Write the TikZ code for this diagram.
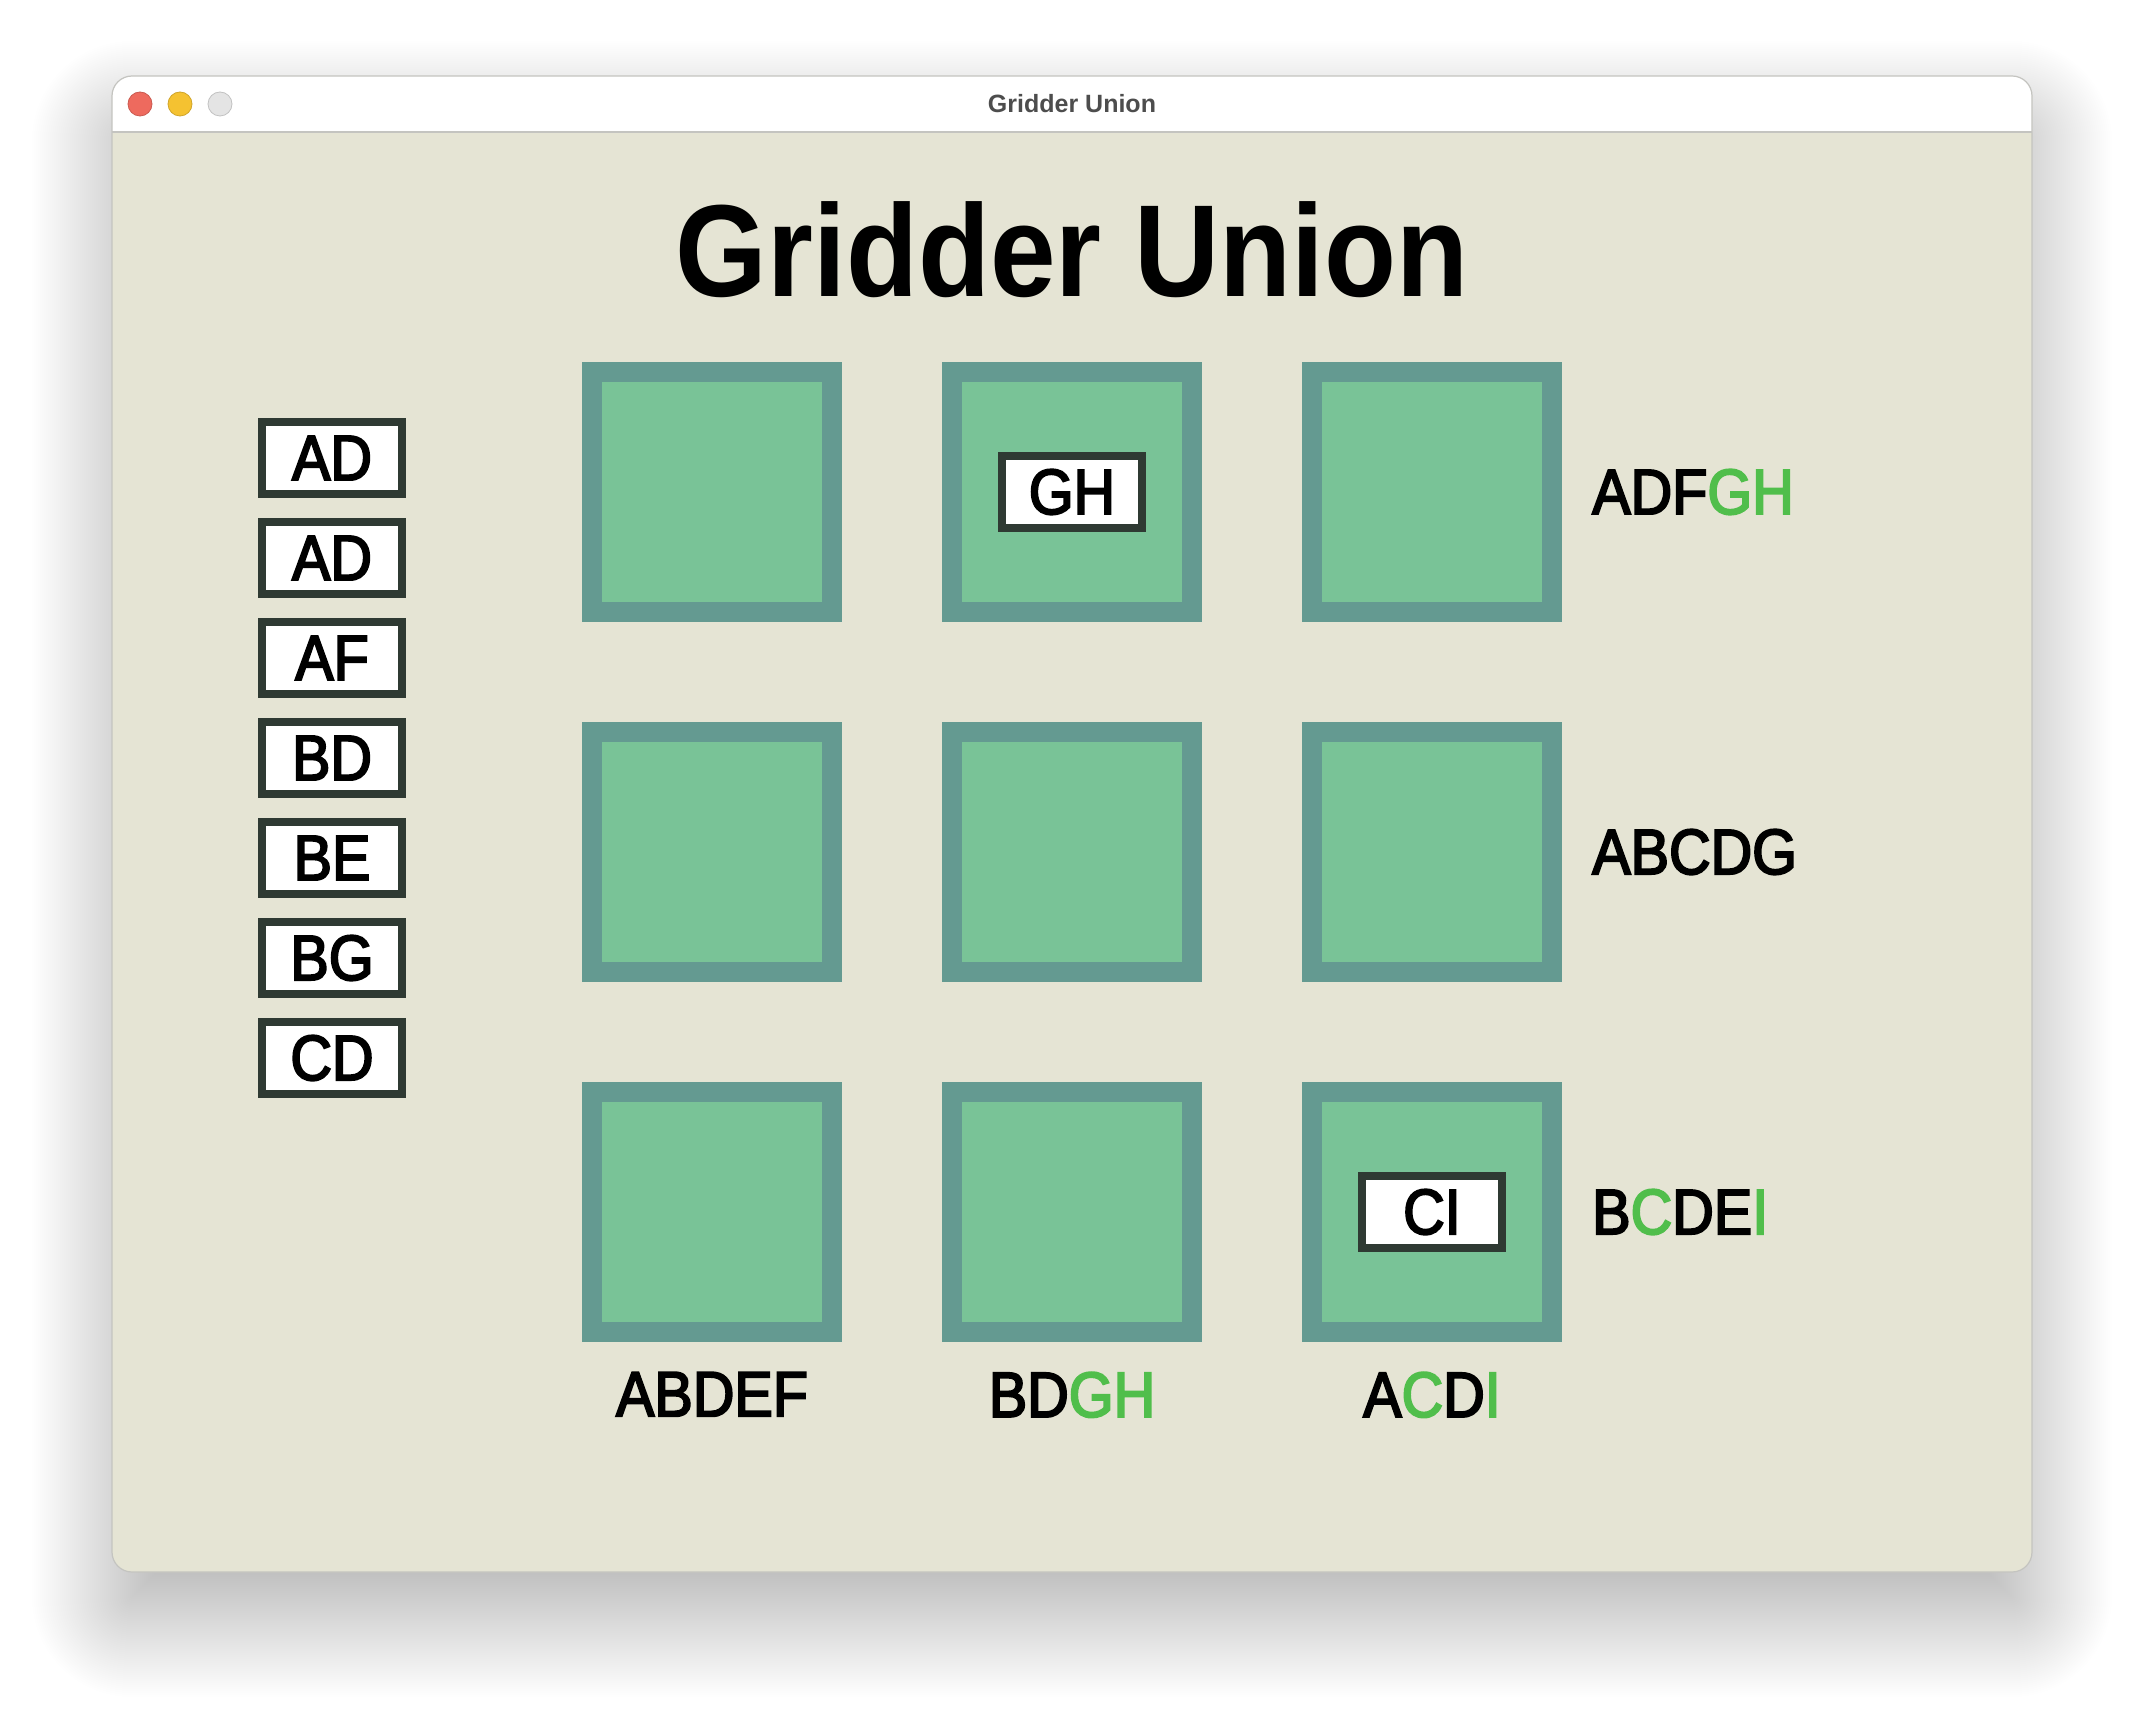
\documentclass[tikz,border=0pt]{standalone}
\usepackage{fontspec}
\newfontfamily\appfont[FakeStretch=0.9,FakeBold=3]{Liberation Sans}
\newfontfamily\headfont[FakeStretch=0.9]{Liberation Sans}
\newfontfamily\barfont{Liberation Sans}
\usetikzlibrary{positioning}

\definecolor{paper}{RGB}{229,228,212}
\definecolor{barline}{RGB}{196,196,192}
\definecolor{bartext}{RGB}{77,77,77}
\definecolor{cellline}{RGB}{100,154,145}
\definecolor{cellfill}{RGB}{121,195,151}
\definecolor{tileline}{RGB}{47,58,51}
\definecolor{hitgreen}{RGB}{80,190,75}
\definecolor{lightred}{RGB}{238,106,94}
\definecolor{lightyellow}{RGB}{245,194,49}
\definecolor{lightgrey}{RGB}{228,228,228}
\newcommand{\hit}[1]{\textcolor{hitgreen}{#1}}

\begin{document}
\begin{tikzpicture}[x=1pt, y=-1pt,
		window/.style={rectangle, fill=paper, draw=none, rounded corners=20pt, minimum width=1920pt, minimum height=1496pt, inner sep=0pt},
		haze/.style={fill=black, fill opacity=0.0056, rounded corners=#1},
		light/.style={circle, minimum size=24pt, inner sep=0pt, line width=0.8pt},
		cell/.style={rectangle, fill=cellfill, draw=cellline, line width=20pt, minimum size=240pt, inner sep=0pt},
		tile/.style={rectangle, fill=white, draw=tileline, line width=8pt, minimum width=140pt, minimum height=72pt,
			inner sep=0pt, text=black, font=\appfont\fontsize{64}{70}\selectfont},
		hint/.style={inner sep=0pt, text=black, font=\appfont\fontsize{64}{70}\selectfont},
		node distance=100pt
]

\fill[white] (0,0) rectangle (2144,1720);
\useasboundingbox (0,0) rectangle (2144,1720);

\foreach \e in {-80,-78,...,80}{
	\pgfmathsetmacro\r{max(1,20+\e)}
	\fill[haze=\r pt] ({112-(\e)},{121-(\e)}) rectangle ({2032+(\e)},{1617+(\e)});
}

\node [window] (Window) at (1072,824) {};
\fill[white] (112,132) [rounded corners=20pt]-- (112,76) -- (2032,76) [sharp corners]-- (2032,132) -- cycle;
\draw[barline, line width=1.5pt] (112,132) -- (2032,132);
\draw[barline, line width=1.2pt, rounded corners=20pt] (112,76) rectangle (2032,1572);

\node [light, fill=lightred, draw=lightred!85!black] (Close) at (140,104) {};
\node [light, fill=lightyellow, draw=lightyellow!85!black] (Shrink) at (180,104) {};
\node [light, fill=lightgrey, draw=lightgrey!85!black] (Grow) at (220,104) {};
\node [anchor=base, text=bartext, font=\barfont\bfseries\fontsize{25}{30}\selectfont] (BarTitle) at (1072,113) {Gridder Union};

\node [anchor=base, text=black, font=\headfont\bfseries\fontsize{131}{140}\selectfont] (Title) at (1072,297) {Gridder Union};

\node [cell] (Cell11) at (712,492) {};
\node [cell, right=of Cell11] (Cell12) {};
\node [cell, right=of Cell12] (Cell13) {};
\node [cell, below=of Cell11] (Cell21) {};
\node [cell, right=of Cell21] (Cell22) {};
\node [cell, right=of Cell22] (Cell23) {};
\node [cell, below=of Cell21] (Cell31) {};
\node [cell, right=of Cell31] (Cell32) {};
\node [cell, right=of Cell32] (Cell33) {};

\node [tile] (PlacedGH) at (Cell12) {GH};
\node [tile] (PlacedCI) at (Cell33) {CI};

\node [tile] (Tray1) at (332,458) {AD};
\node [tile, below=20pt of Tray1] (Tray2) {AD};
\node [tile, below=20pt of Tray2] (Tray3) {AF};
\node [tile, below=20pt of Tray3] (Tray4) {BD};
\node [tile, below=20pt of Tray4] (Tray5) {BE};
\node [tile, below=20pt of Tray5] (Tray6) {BG};
\node [tile, below=20pt of Tray6] (Tray7) {CD};

\node [hint, right=30pt of Cell13] (Row1) {ADF\hit{GH}};
\node [hint, right=30pt of Cell23] (Row2) {ABCDG};
\node [hint, right=30pt of Cell33] (Row3) {B\hit{C}DE\hit{I}};

\node [hint, below=30pt of Cell31] (Col1) {ABDEF};
\node [hint, below=30pt of Cell32] (Col2) {BD\hit{GH}};
\node [hint, below=30pt of Cell33] (Col3) {A\hit{C}D\hit{I}};

\end{tikzpicture}
\end{document}
